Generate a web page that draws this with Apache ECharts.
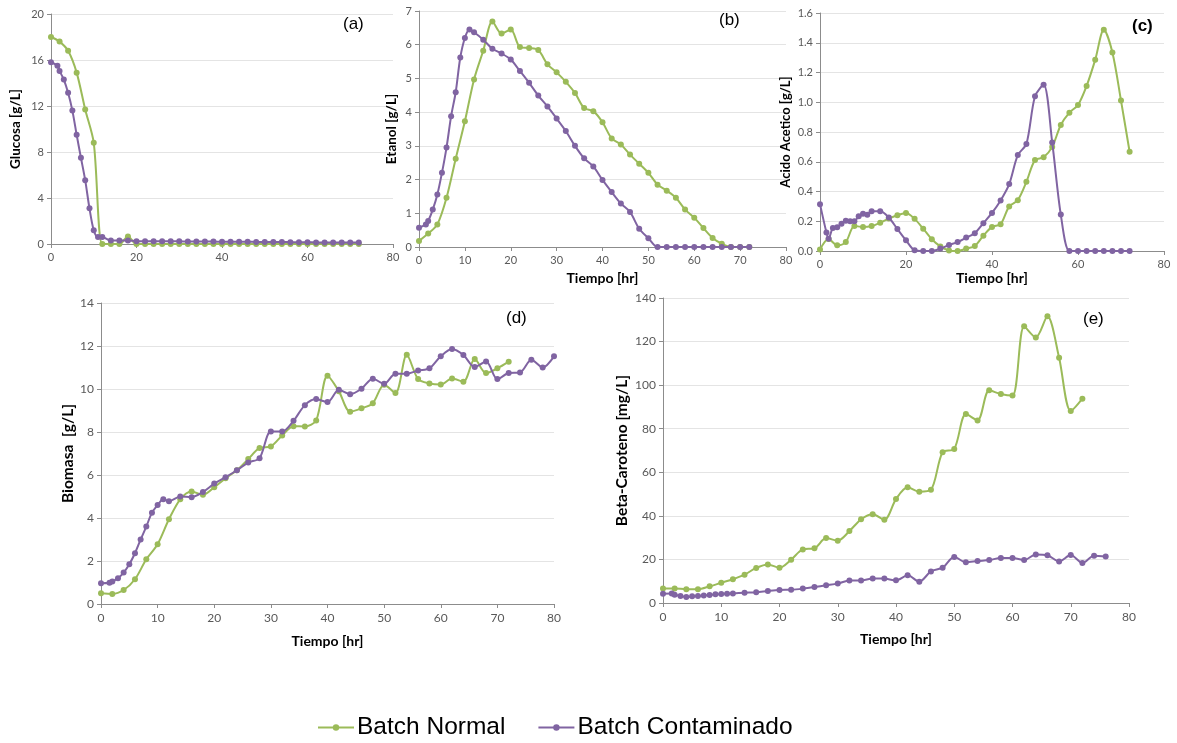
<!DOCTYPE html>
<html>
<head>
<meta charset="utf-8">
<script src="https://cdn.jsdelivr.net/npm/echarts@6/dist/echarts.min.js"></script>
<style>
html,body{margin:0;padding:0;background:#fff;}
#chart{width:1177px;height:743px;}
</style>
</head>
<body>
<div id="chart"></div>
<script>
// ---- time grids (hr) ----
const tNormal = [0,2,4,6,8,10,12,14,16,18,20,22,24,26,28,30,32,34,36,38,40,42,44,46,48,50,52,54,56,58,60,62,64,66,68,70,72];
const tContam72 = [0,1.5,2,3,4,5,6,7,8,9,10,11,12,14,16,18,20,22,24,26,28,30,32,34,36,38,40,42,44,46,48,50,52,54,56,58,60,62,64,66,68,70,72];
const tContam76 = [0,1.5,2,3,4,5,6,7,8,9,10,11,12,14,16,18,20,22,24,26,28,30,32,34,36,38,40,42,44,46,48,50,52,54,56,58,60,62,64,66,68,70,72,74,76];
const tContam80 = [0,1.5,2,3,4,5,6,7,8,9,10,11,12,14,16,18,20,22,24,26,28,30,32,34,36,38,40,42,44,46,48,50,52,54,56,58,60,62,64,66,68,70,72,74,76,78,80];

// ---- (a) Glucosa [g/L] ----
const glucosaNormal = [18.0,17.6,16.8,14.9,11.7,8.8,0,0,0,0.65,0,0,0,0,0,0,0,0,0,0,0,0,0,0,0,0,0,0,0,0,0,0,0,0,0,0,0];
const glucosaContam = [15.8,15.5,15.05,14.3,13.15,11.6,9.5,7.5,5.55,3.1,1.2,0.6,0.6,0.3,0.3,0.3,0.25,0.25,0.24,0.24,0.23,0.23,0.22,0.22,0.21,0.21,0.2,0.2,0.19,0.19,0.18,0.18,0.17,0.17,0.16,0.15,0.15,0.14,0.14,0.13,0.13,0.12,0.12];

// ---- (b) Etanol [g/L] ----
const etanolNormal = [0.18,0.4,0.67,1.46,2.62,3.73,4.97,5.82,6.69,6.33,6.45,5.93,5.9,5.84,5.42,5.18,4.9,4.57,4.12,4.03,3.7,3.22,3.04,2.74,2.47,2.2,1.85,1.67,1.46,1.11,0.87,0.56,0.27,0.1,0,0,0];
const etanolContam = [0.57,0.67,0.77,1.11,1.56,2.2,2.95,3.88,4.59,5.62,6.2,6.45,6.37,6.15,5.88,5.74,5.56,5.22,4.87,4.49,4.17,3.81,3.44,3.0,2.63,2.39,1.99,1.63,1.29,1.04,0.54,0.26,0,0,0,0,0,0,0,0,0,0,0];

// ---- (c) Acido Acetico [g/L] ----
const acidoNormal = [0.01,0.08,0.038,0.06,0.168,0.162,0.168,0.19,0.218,0.24,0.255,0.216,0.15,0.079,0.031,0.004,0,0.016,0.034,0.103,0.162,0.18,0.3,0.342,0.465,0.611,0.63,0.7,0.847,0.93,0.982,1.11,1.285,1.488,1.335,1.011,0.667];
const acidoContam = [0.315,0.124,0.083,0.155,0.16,0.184,0.204,0.2,0.2,0.234,0.25,0.243,0.267,0.267,0.225,0.148,0.072,0.005,0,0,0.016,0.04,0.06,0.09,0.12,0.187,0.256,0.34,0.45,0.645,0.72,1.04,1.117,0.73,0.245,0,0,0,0,0,0,0,0];

// ---- (d) Biomasa [g/L] ----
const biomasaNormal = [0.5,0.47,0.65,1.15,2.08,2.78,3.94,4.87,5.23,5.08,5.43,5.85,6.22,6.74,7.26,7.33,7.84,8.27,8.26,8.54,10.62,9.9,8.94,9.1,9.34,10.2,9.81,11.59,10.46,10.26,10.21,10.49,10.34,11.39,10.74,10.96,11.27];
const biomasaContam = [0.96,0.99,1.05,1.2,1.46,1.85,2.36,3.0,3.6,4.25,4.6,4.87,4.78,5.0,4.97,5.21,5.6,5.9,6.22,6.58,6.78,8.02,8.02,8.52,9.25,9.53,9.39,9.96,9.76,10.01,10.48,10.24,10.71,10.71,10.86,10.96,11.52,11.86,11.58,11.02,11.28,10.46,10.74,10.77,11.36,11.0,11.52];

// ---- (e) Beta-Caroteno [mg/L] ----
const caroNormal = [6.6,6.7,6.3,6.3,7.65,9.3,10.9,13.0,16.1,17.7,16.2,19.9,24.6,25.1,29.8,28.6,33.0,38.4,40.7,38.2,47.7,53.1,51.1,52.0,69.2,70.7,86.7,83.8,97.6,95.9,95.2,127,121.9,131.6,112.6,88.1,93.8];
const caroContam = [4.3,4.4,3.8,3.2,2.75,3.05,3.2,3.5,3.7,4.0,4.1,4.3,4.4,4.7,4.9,5.5,6.0,6.1,6.6,7.3,8.1,8.9,10.3,10.3,11.3,11.2,10.4,12.7,9.8,14.5,16.2,21.1,18.7,19.3,19.7,20.7,20.7,19.7,22.3,21.9,19.1,22.0,18.4,21.7,21.4];

const seriesNames = ['Batch Normal','Batch Contaminado'];
const panelLabels = ['(a)','(b)','(c)','(d)','(e)'];
const yTitles = ['Glucosa [g/L]','Etanol [g/L]','Acido Acetico [g/L]','Biomasa  [g/L]','Beta-Caroteno [mg/L]'];
const xTitle = 'Tiempo [hr]';

const GREEN = '#9BBB59', PURPLE = '#8064A2';
const zip = (t, v) => t.map((x, i) => [x, v[i]]);

const grids = [
  {left:51, top:14, width:342, height:230},
  {left:419, top:11, width:367, height:236},
  {left:820, top:13, width:344, height:238},
  {left:101, top:303, width:453, height:301},
  {left:663, top:298, width:466, height:305}
];

const xCfg = [
  {max:80, interval:20, title:false, gap:0, fs:11},
  {max:80, interval:10, title:true, gap:24, fs:11},
  {max:80, interval:20, title:true, gap:20, fs:11},
  {max:80, interval:10, title:true, gap:30, fs:12},
  {max:80, interval:10, title:true, gap:29, fs:12}
];
const yCfg = [
  {max:20, interval:4, gap:28, fs:11, tfs:13.5, dec:0},
  {max:7, interval:1, gap:20, fs:11, tfs:13.5, dec:0},
  {max:1.6, interval:0.2, gap:28, fs:11, tfs:13, dec:1},
  {max:14, interval:2, gap:24, fs:12, tfs:15.5, dec:0},
  {max:140, interval:20, gap:33, fs:12, tfs:15.5, dec:0}
];

const axisLineStyle = {lineStyle:{color:'#8C8C8C', width:1}};
const xAxes = xCfg.map((c, i) => ({
  type:'value', gridIndex:i, min:0, max:c.max, interval:c.interval,
  axisLine:{show:true, onZero:false, ...axisLineStyle},
  axisTick:{show:true, length:4, lineStyle:{color:'#8C8C8C'}},
  splitLine:{show:false},
  axisLabel:{color:'#595959', fontSize:c.fs, fontFamily:'Lato', margin:8},
  name: c.title ? xTitle : '',
  nameLocation:'middle', nameGap:c.gap,
  nameTextStyle:{fontFamily:'Lato', fontWeight:'bold', fontSize:14, color:'#000'}
}));
const yAxes = yCfg.map((c, i) => ({
  type:'value', gridIndex:i, min:0, max:c.max, interval:c.interval,
  axisLine:{show:true, ...axisLineStyle},
  axisTick:{show:true, length:4, lineStyle:{color:'#8C8C8C'}},
  splitLine:{show:true, lineStyle:{color:'#E4E4E4', width:1}},
  axisLabel:{color:'#595959', fontSize:c.fs, fontFamily:'Lato', margin:7,
    formatter: v => v.toFixed(c.dec)},
  name: yTitles[i], nameLocation:'middle', nameGap:c.gap,
  nameTextStyle:{fontFamily:'Lato', fontWeight:'bold', fontSize:c.tfs, color:'#000'}
}));

const normals = [
  zip(tNormal, glucosaNormal), zip(tNormal, etanolNormal), zip(tNormal, acidoNormal),
  zip(tNormal, biomasaNormal), zip(tNormal, caroNormal)
];
const contams = [
  zip(tContam72, glucosaContam), zip(tContam72, etanolContam), zip(tContam72, acidoContam),
  zip(tContam80, biomasaContam), zip(tContam76, caroContam)
];

const series = [];
for (let i = 0; i < 5; i++) {
  series.push({
    name: seriesNames[0], type:'line', xAxisIndex:i, yAxisIndex:i, data: normals[i],
    smooth:0.3, symbol:'circle', symbolSize:6, showAllSymbol:true,
    lineStyle:{color:GREEN, width:2}, itemStyle:{color:GREEN}, z:2, clip:false
  });
  series.push({
    name: seriesNames[1], type:'line', xAxisIndex:i, yAxisIndex:i, data: contams[i],
    smooth:0.3, symbol:'circle', symbolSize:6, showAllSymbol:true,
    lineStyle:{color:PURPLE, width:2}, itemStyle:{color:PURPLE}, z:3, clip:false
  });
}

const labelPos = [[355,26,17,'normal'],[731,22,17,'normal'],[1144,28,17,'bold'],[518,320,17,'normal'],[1095,321,17,'normal']];
const graphics = labelPos.map((p, i) => ({
  type:'text', left:p[0]-12, top:p[1]-10,
  style:{text:panelLabels[i], font:`${p[3]} ${p[2]}px "Liberation Sans", Arial, sans-serif`, fill:'#000'}
}));

const chart = echarts.init(document.getElementById('chart'), null, {renderer:'canvas'});
chart.setOption({
  animation:false,
  backgroundColor:'#fff',
  grid: grids,
  xAxis: xAxes,
  yAxis: yAxes,
  series: series,
  legend: {
    data: seriesNames, left:317, top:715, padding:0,
    itemWidth:36, itemHeight:8, itemGap:32,
    textStyle:{fontFamily:'"Liberation Sans", Arial, sans-serif', fontSize:24.5, color:'#000', padding:[0,0,0,-2]}
  },
  graphic: graphics
});
</script>
</body>
</html>
